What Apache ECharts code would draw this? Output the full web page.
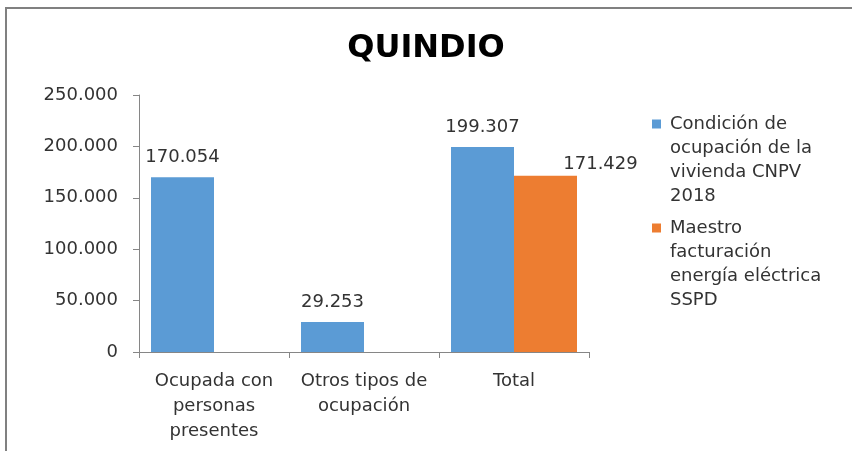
<!DOCTYPE html>
<html>
<head>
<meta charset="utf-8">
<script src="https://cdn.jsdelivr.net/npm/echarts@6/dist/echarts.min.js"></script>
<style>
  html, body { margin: 0; padding: 0; background: #fff; }
  #chart { width: 852px; height: 451px; }
</style>
</head>
<body>
<div id="chart"></div>
<script>
const categorias = ["Ocupada con\npersonas\npresentes", "Otros tipos de\nocupación", "Total"];
const censo = [170054, 29253, 199307];
const sspd = [null, null, 171429];
const nombres = [
  "Condición de ocupación de la vivienda CNPV 2018",
  "Maestro facturación energía eléctrica SSPD",
];
// cortes de linea de la leyenda
const nombresLeyenda = {
  [nombres[0]]: "Condición de\nocupación de la\nvivienda CNPV\n2018",
  [nombres[1]]: "Maestro\nfacturación\nenergía eléctrica\nSSPD",
};

const fuente = "DejaVu Sans";
const gris = "#333333";

function miles(v) {
  return String(v).replace(/\B(?=(\d{3})+(?!\d))/g, ".");
}

const chart = echarts.init(document.getElementById("chart"));

const option = {
  animation: false,
  backgroundColor: "#fff",
  title: {
    text: "QUINDIO",
    left: "center",
    top: 28,
    textStyle: {
      fontFamily: fuente,
      fontSize: 32,
      fontWeight: "bold",
      color: "#000",
    },
  },
  graphic: [
    {
      type: "rect",
      shape: { x: 6, y: 8, width: 900, height: 500 },
      style: { fill: "none", stroke: "#808080", lineWidth: 2 },
      silent: true,
    },
  ],
  legend: {
    orient: "vertical",
    left: 652,
    top: 40,
    padding: 0,
    itemWidth: 9,
    itemHeight: 9,
    itemGap: -64,
    icon: "rect",
    // lineas vacias arriba para que el cuadro quede en la primera linea
    formatter: (name) => "\n\n\n" + nombresLeyenda[name],
    textStyle: {
      fontFamily: fuente,
      fontSize: 18,
      lineHeight: 24,
      color: gris,
      padding: [0, 0, 0, 4],
    },
    data: nombres,
  },
  grid: {
    left: 139,
    right: 263,
    top: 95,
    bottom: 99,
  },
  xAxis: {
    type: "category",
    data: categorias,
    axisLine: { show: true, lineStyle: { color: "#868686", width: 1 } },
    axisTick: { show: true, length: 6, lineStyle: { color: "#868686" } },
    axisLabel: {
      interval: 0,
      margin: 17,
      fontFamily: fuente,
      fontSize: 18,
      lineHeight: 25,
      color: gris,
    },
    splitLine: { show: false },
  },
  yAxis: {
    type: "value",
    min: 0,
    max: 250000,
    interval: 50000,
    axisLine: { show: true, lineStyle: { color: "#868686", width: 1 } },
    axisTick: { show: true, length: 6, lineStyle: { color: "#868686" } },
    axisLabel: {
      margin: 21,
      fontFamily: fuente,
      fontSize: 18,
      color: gris,
      formatter: miles,
    },
    splitLine: { show: false },
  },
  series: [
    {
      name: nombres[0],
      type: "bar",
      data: censo,
      barWidth: 63,
      barGap: "0%",
      itemStyle: { color: "#5B9BD5" },
      label: {
        show: true,
        position: "top",
        distance: 11,
        fontFamily: fuente,
        fontSize: 18,
        color: gris,
        formatter: (p) => miles(p.value),
      },
    },
    {
      name: nombres[1],
      type: "bar",
      data: sspd,
      barWidth: 63,
      barGap: "0%",
      itemStyle: { color: "#ED7D31" },
      label: {
        show: true,
        position: "top",
        distance: 2,
        offset: [55, 0],
        fontFamily: fuente,
        fontSize: 18,
        color: gris,
        formatter: (p) => miles(p.value),
      },
    },
  ],
};

chart.setOption(option);
</script>
</body>
</html>
